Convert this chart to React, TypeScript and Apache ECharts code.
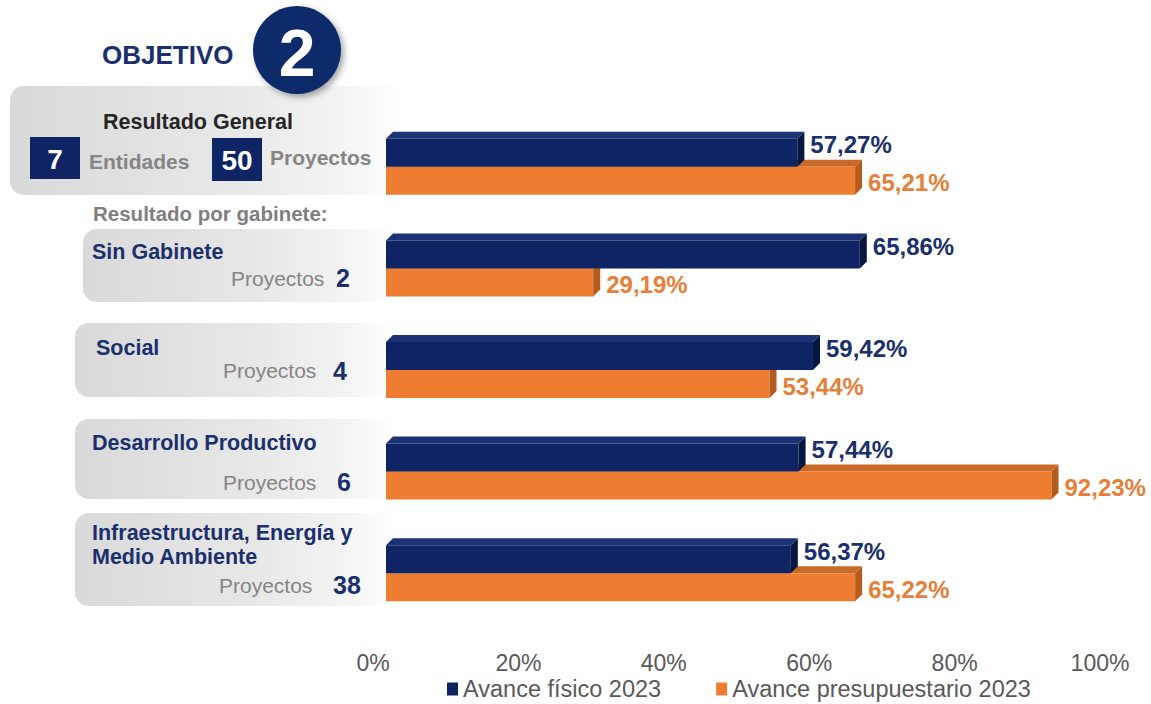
import React, { useEffect, useRef } from "react";
import * as echarts from "echarts";

const categories = [
  "Resultado General",
  "Sin Gabinete",
  "Social",
  "Desarrollo Productivo",
  "Infraestructura, Energía y Medio Ambiente",
];
const proyectos = [50, 2, 4, 6, 38];
const entidades = 7;
const fisico = [57.27, 65.86, 59.42, 57.44, 56.37];
const presupuestario = [65.21, 29.19, 53.44, 92.23, 65.22];
const xTicks = [0, 20, 40, 60, 80, 100];
const seriesNames = ["Avance físico 2023", "Avance presupuestario 2023"];

const FONT = '"Liberation Sans", Arial, Helvetica, sans-serif';
const NAVY = "#0E2464";
const NAVY_TXT = "#1B2F6E";
const ORANGE = "#EE7D31";
const GRAY = "#858585";

const fmt = (v: number) => v.toFixed(2).replace(".", ",") + "%";

function makeRender(kind: "navy" | "orange") {
  return (params: any, api: any) => {
    const idx = api.value(0);
    const v = api.value(1);
    const base = api.coord([0, idx]);
    const end = api.coord([v, idx]);
    const c = base[1] + 4;
    const h = 28;
    const d = 7;
    const x0 = base[0] + 13;
    const x1 = end[0] + 8;
    const yTop = kind === "navy" ? c - h : c;
    const yBot = yTop + h;
    const front = kind === "navy" ? NAVY : ORANGE;
    const top = kind === "navy" ? "#1C3274" : "#C96A28";
    const side = kind === "navy" ? "#06163F" : "#B45B1E";
    const labelY = kind === "navy" ? c - 22 : c + 16;
    return {
      type: "group",
      children: [
        {
          type: "polygon",
          shape: { points: [[x0, yTop], [x1, yTop], [x1 + d, yTop - d], [x0 + d, yTop - d]] },
          style: { fill: top },
        },
        {
          type: "rect",
          shape: { x: x0, y: yTop, width: x1 - x0, height: h },
          style: { fill: front },
        },
        {
          type: "polygon",
          shape: { points: [[x1, yTop], [x1 + d, yTop - d], [x1 + d, yBot - d], [x1, yBot]] },
          style: { fill: side },
        },
        {
          type: "text",
          x: x1 + d + 6,
          y: labelY,
          style: {
            text: fmt(v),
            fill: kind === "navy" ? NAVY_TXT : "#E57F3A",
            font: `bold 24px ${FONT}`,
            align: "left",
            verticalAlign: "middle",
          },
        },
      ],
    };
  };
}

function panelFill() {
  return new echarts.graphic.LinearGradient(0, 0, 1, 0, [
    { offset: 0, color: "#d9d9d9" },
    { offset: 0.55, color: "#e7e7e7" },
    { offset: 0.85, color: "#f4f4f4" },
    { offset: 1, color: "#ffffff" },
  ]);
}

function txt(x: number, y: number, text: string, size: number, fill: string, bold = true, align = "left") {
  return {
    type: "text",
    x,
    y,
    z: 1,
    style: {
      text,
      fill,
      font: `${bold ? "bold " : ""}${size}px ${FONT}`,
      align,
      verticalAlign: "middle",
    },
  };
}

function buildGraphic() {
  const g: any[] = [];
  const panels = [
    [10, 86, 392, 109],
    [83, 229, 312, 73],
    [75, 323, 320, 74],
    [75, 419, 320, 80],
    [75, 513, 320, 93],
  ];
  panels.forEach(([x, y, w, h]) => {
    g.push({
      type: "rect",
      z: 0,
      shape: { x, y, width: w, height: h, r: 14 },
      style: { fill: panelFill() },
    });
  });
  // header
  g.push(txt(102, 55, "OBJETIVO", 26, NAVY_TXT));
  g.push({
    type: "circle",
    z: 1,
    shape: { cx: 297, cy: 50, r: 44 },
    style: { fill: "#10296A", shadowBlur: 6, shadowOffsetX: 3, shadowOffsetY: 3, shadowColor: "rgba(0,0,0,0.35)" },
  });
  g.push(txt(297, 53, "2", 66, "#ffffff", true, "center"));
  // general
  g.push(txt(103, 122, categories[0], 21.5, "#262626"));
  g.push({ type: "rect", z: 1, shape: { x: 30, y: 137, width: 50, height: 42 }, style: { fill: NAVY } });
  g.push(txt(55, 159, String(entidades), 28, "#ffffff", true, "center"));
  g.push(txt(89, 161, "Entidades", 21, GRAY));
  g.push({ type: "rect", z: 1, shape: { x: 212, y: 138, width: 50, height: 43 }, style: { fill: NAVY } });
  g.push(txt(237, 160, String(proyectos[0]), 28, "#ffffff", true, "center"));
  g.push(txt(270, 157, "Proyectos", 21, GRAY));
  g.push(txt(93, 213, "Resultado por gabinete:", 20.5, "#7f7f7f"));
  // gabinetes
  g.push(txt(92, 252, categories[1], 21.5, NAVY_TXT));
  g.push(txt(231, 278, "Proyectos", 21, GRAY, false));
  g.push(txt(336, 278, String(proyectos[1]), 25, NAVY_TXT));

  g.push(txt(96, 348, categories[2], 21.5, NAVY_TXT));
  g.push(txt(223, 370, "Proyectos", 21, GRAY, false));
  g.push(txt(333, 371, String(proyectos[2]), 25, NAVY_TXT));

  g.push(txt(92, 443, categories[3], 21.5, NAVY_TXT));
  g.push(txt(223, 482, "Proyectos", 21, GRAY, false));
  g.push(txt(337, 482, String(proyectos[3]), 25, NAVY_TXT));

  g.push(txt(92, 533, "Infraestructura, Energía y", 21.5, NAVY_TXT));
  g.push(txt(92, 557, "Medio Ambiente", 21.5, NAVY_TXT));
  g.push(txt(219, 585, "Proyectos", 21, GRAY, false));
  g.push(txt(333, 585, String(proyectos[4]), 25, NAVY_TXT));
  return g;
}

export default function App() {
  const ref = useRef<HTMLDivElement>(null);
  useEffect(() => {
    if (!ref.current) return;
    const chart = echarts.init(ref.current, null, { renderer: "svg" });
    const option: any = {
      animation: false,
      backgroundColor: "#ffffff",
      grid: { left: 373, right: 51, top: 112, height: 508 },
      xAxis: {
        type: "value",
        min: xTicks[0],
        max: xTicks[xTicks.length - 1],
        interval: 20,
        axisLabel: { formatter: "{value}%", fontSize: 23, color: "#595959", margin: 31, fontFamily: FONT },
        axisLine: { show: false },
        axisTick: { show: false },
        splitLine: { show: false },
      },
      yAxis: {
        type: "category",
        data: categories,
        inverse: true,
        axisLabel: { show: false },
        axisLine: { show: false },
        axisTick: { show: false },
        splitLine: { show: false },
      },
      legend: {
        data: seriesNames,
        left: 442,
        top: 672,
        padding: 5,
        icon: "rect",
        itemWidth: 11,
        itemHeight: 13,
        itemGap: 55,
        textStyle: { fontSize: 23.5, lineHeight: 24, color: "#595959", fontFamily: FONT },
      },
      series: [
        {
          name: seriesNames[0],
          type: "custom",
          z: 3,
          itemStyle: { color: NAVY },
          encode: { x: 1, y: 0 },
          data: fisico.map((v, i) => [i, v]),
          renderItem: makeRender("navy"),
        },
        {
          name: seriesNames[1],
          type: "custom",
          z: 2,
          itemStyle: { color: ORANGE },
          encode: { x: 1, y: 0 },
          data: presupuestario.map((v, i) => [i, v]),
          renderItem: makeRender("orange"),
        },
      ],
      graphic: buildGraphic(),
    };
    chart.setOption(option);
    return () => chart.dispose();
  }, []);
  return (
    <div
      ref={ref}
      style={{ position: "absolute", left: 0, top: 0, width: 1151, height: 704 }}
    />
  );
}
